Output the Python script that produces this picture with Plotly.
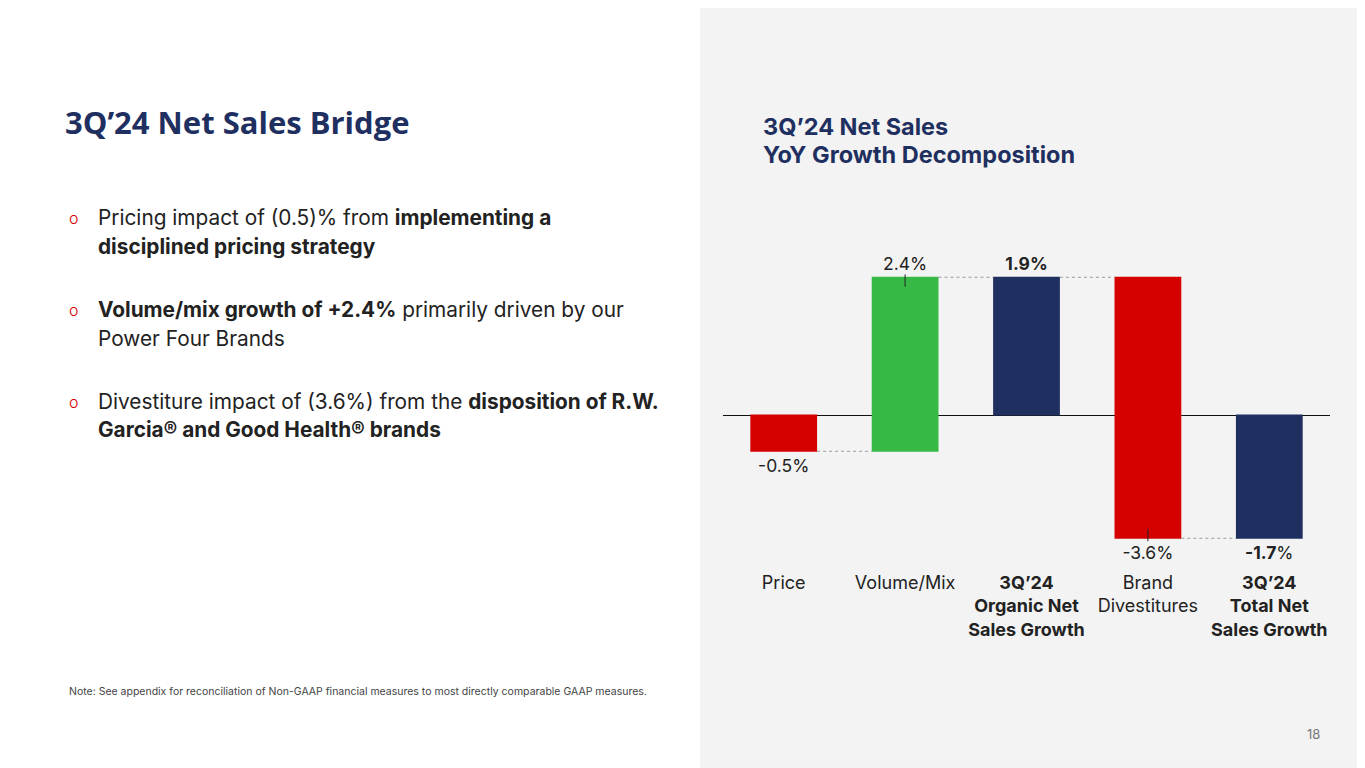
import plotly.graph_objects as go

# waterfall data (percent YoY)
categories = ["Price", "Volume/Mix", "Organic", "Divestitures", "Total"]
tick_labels = ["Price", "Volume/Mix", "<b>3Q’24<br>Organic Net<br>Sales Growth</b>",
               "Brand<br>Divestitures", "<b>3Q’24<br>Total Net<br>Sales Growth</b>"]
measures = ["relative", "relative", "total", "relative", "total"]
values = [-0.5, 2.4, 1.9, -3.6, -1.7]
value_labels = ["-0.5%", "2.4%", "<b>1.9%</b>", "-3.6%", "<b>-1.7</b>%"]

bullets = [
    ["Pricing impact of (0.5)% from <b>implementing a</b>", "<b>disciplined pricing strategy</b>"],
    ["<b>Volume/mix growth of +2.4%</b> primarily driven by our", "Power Four Brands"],
    ["Divestiture impact of (3.6%) from the <b>disposition of R.W.</b>",
     "<b>Garcia® and Good Health® brands</b>"],
]

NAVY = "#1e2f60"
RED = "#d50000"
GREEN = "#37b946"
TXT = "#222222"
FONT = "Inter"

# the page puts the plot 8px in from the top-left corner, so the figure is 8px smaller
OFF = 8
W, H = 1365 - OFF, 768 - OFF

def px(x):
    return (x - OFF) / W

def py(y):
    return 1 - (y - OFF) / H

fig = go.Figure(go.Waterfall(
    x=categories, y=values, measure=measures,
    text=value_labels, textposition="outside", cliponaxis=False,
    constraintext="none",
    textfont=dict(family=FONT, size=17.5, color=TXT),
    increasing=dict(marker=dict(color=GREEN)),
    decreasing=dict(marker=dict(color=RED)),
    totals=dict(marker=dict(color=NAVY)),
    connector=dict(line=dict(color="#9a9a9a", width=1, dash="dot")),
    width=0.55,
    hoverinfo="skip",
))

# running totals for the small leader ticks
ends = []
run = 0
for m, v in zip(measures, values):
    run = v if m == "total" else run + v
    ends.append(run)

shapes = [dict(type="rect", xref="paper", yref="paper", x0=px(700), x1=1, y0=0, y1=1,
               fillcolor="#f3f3f3", line=dict(width=0), layer="below")]
for i in (1, 3):
    sign = 1 if values[i] > 0 else -1
    shapes.append(dict(type="line", xref="x", yref="y", x0=i, x1=i,
                       y0=ends[i] + sign * 0.04, y1=ends[i] - sign * 0.13,
                       line=dict(color="#222", width=1)))

ann = []
ann.append(dict(text="3Q’24 Net Sales Bridge", x=px(63), y=py(122), xanchor="left", yanchor="middle",
                font=dict(family="Open Sans", size=31, color=NAVY, weight=700)))
ann.append(dict(text="<b>3Q’24 Net Sales</b>", x=px(761), y=py(127), xanchor="left", yanchor="middle",
                font=dict(family=FONT, size=23.5, color=NAVY)))
ann.append(dict(text="<b>YoY Growth Decomposition</b>", x=px(761), y=py(154), xanchor="left",
                yanchor="middle", font=dict(family=FONT, size=23.5, color=NAVY)))

line_y = [[217, 247], [309, 338], [401, 430]]
for b, ys in zip(bullets, line_y):
    ann.append(dict(text="o", x=px(67), y=py(ys[0] + 1), xanchor="left", yanchor="middle",
                    font=dict(family=FONT, size=16, color=RED, weight=300)))
    for t, yy in zip(b, ys):
        ann.append(dict(text=t, x=px(96), y=py(yy), xanchor="left", yanchor="middle",
                        font=dict(family=FONT, size=20.8, color=TXT)))

ann.append(dict(text="Note: See appendix for reconciliation of Non-GAAP financial measures to most directly comparable GAAP measures.",
                x=px(67), y=py(691), xanchor="left", yanchor="middle",
                font=dict(family=FONT, size=10.5, color="#444")))
ann.append(dict(text="18", x=px(1313), y=py(734), xanchor="center", yanchor="middle",
                font=dict(family=FONT, size=13, color="#777")))
for a in ann:
    a.update(xref="paper", yref="paper", showarrow=False)

fig.update_layout(
    width=W, height=H, margin=dict(l=0, r=0, t=0, b=0),
    paper_bgcolor="white", plot_bgcolor="rgba(0,0,0,0)",
    showlegend=False, shapes=shapes, annotations=ann,
    font=dict(family=FONT, color=TXT),
    xaxis=dict(domain=[px(723), px(1330)], tickvals=categories, ticktext=tick_labels,
               showgrid=False, showline=False, ticks="", tickfont=dict(size=18, color=TXT),
               ticklabelstandoff=4, fixedrange=True),
    yaxis=dict(domain=[py(566), py(240)], range=[-(566 - 415) / 72.5, (415 - 240) / 72.5],
               showgrid=False, showticklabels=False, zeroline=True, zerolinecolor="#111",
               zerolinewidth=1.2, fixedrange=True),
)

fig.write_html("out.html")
